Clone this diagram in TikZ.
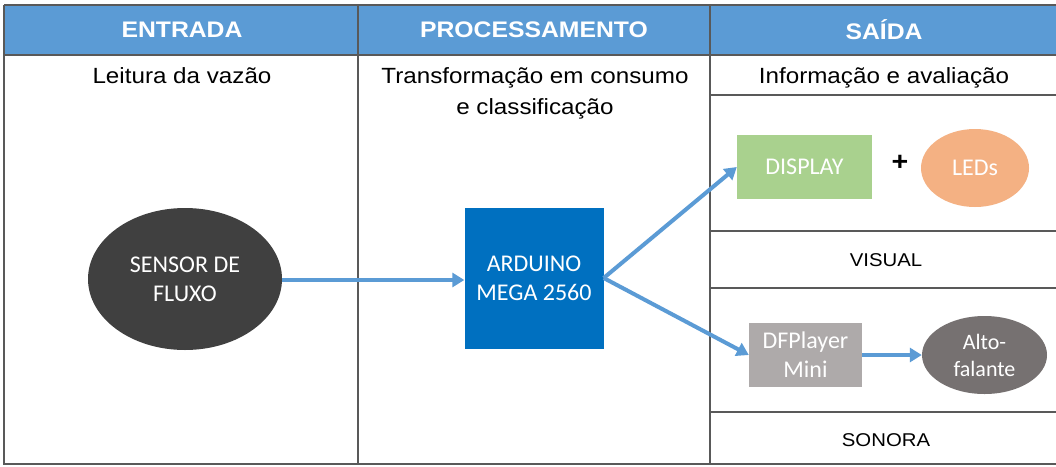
\documentclass[tikz,border=0pt]{standalone}
\usepackage{fontspec}
\setmainfont{Liberation Sans}[FakeStretch=1.1]
\newfontfamily\calib{Carlito}
\usetikzlibrary{shapes.geometric,arrows.meta}
\definecolor{hdrblue}{HTML}{5B9BD5}
\definecolor{ardblue}{HTML}{0070C0}
\definecolor{dispgreen}{HTML}{A9D18E}
\definecolor{ledorange}{HTML}{F4B183}
\definecolor{dfgray}{HTML}{AEAAAA}
\definecolor{altogray}{HTML}{767171}
\definecolor{sensgray}{HTML}{404040}
\definecolor{gridline}{HTML}{595959}
\tikzset{
  grid/.style={draw=gridline, line width=1.3pt},
  hdr/.style={text=white, font=\fontsize{22.5}{26}\selectfont\bfseries},
  sub/.style={text=black, font=\fontsize{22}{31}\selectfont, align=center},
  lbl/.style={text=black, font=\fontsize{18.5}{20}\selectfont},
  boxtext/.style={text=white, font=\calib\fontsize{24}{29}\selectfont, align=center, inner sep=0pt},
  flow/.style={draw=hdrblue, line width=4pt, -{Triangle[length=12pt,width=14pt]}},
}
\begin{document}
\begin{tikzpicture}[x=1pt,y=-1pt]
\useasboundingbox (0,0) rectangle (1056,466);
\fill[white] (0,0) rectangle (1056,466);
% header
\fill[hdrblue] (4,5) rectangle (1056,55);
\draw[grid] (4,5) -- (1056,5);
\draw[grid] (4,55) -- (1056,55);
\draw[grid] (4,5) -- (4,464) -- (1056,464);
\draw[grid] (358,5) -- (358,464);
\draw[grid] (710,5) -- (710,464);
\draw[grid] (710,95) -- (1056,95);
\draw[grid] (710,231) -- (1056,231);
\draw[grid] (710,288) -- (1056,288);
\draw[grid] (710,412) -- (1056,412);
% header texts
\node[hdr] (h1) at (182,30) {ENTRADA};
\node[hdr] (h2) at (534,30) {PROCESSAMENTO};
\node[hdr] (h3) at (884,30) {SAÍDA};
\node[sub, anchor=base] (s1) at (182,83) {Leitura da vazão};
\node[sub, anchor=base] (s2) at (535,114) {Transformação em consumo\\e classificação};
\node[sub, anchor=base] (s3) at (884,83) {Informação e avaliação};
\node[lbl] (vis) at (886,260) {VISUAL};
\node[lbl] (son) at (886,440) {SONORA};
% nodes
\node[ellipse, fill=sensgray, minimum width=194pt, minimum height=142pt, boxtext] (sensor) at (185,279) {SENSOR DE\\FLUXO};
\node[rectangle, fill=ardblue, minimum width=139pt, minimum height=141pt, boxtext] (ard) at (534,278) {ARDUINO\\MEGA 2560};
\node[rectangle, fill=dispgreen, minimum width=135pt, minimum height=64pt, boxtext] (disp) at (804.5,167) {DISPLAY};
\node[font=\fontsize{26}{26}\selectfont\bfseries] (plus) at (900,163) {+};
\node[ellipse, fill=ledorange, minimum width=108pt, minimum height=78pt, boxtext] (led) at (975,168) {LEDs};
\node[rectangle, fill=dfgray, minimum width=113pt, minimum height=64pt, boxtext] (df) at (805.5,355) {DFPlayer\\Mini};
\node[ellipse, fill=altogray, minimum width=125pt, minimum height=78pt, boxtext, font=\calib\fontsize{22}{27}\selectfont] (alto) at (984.5,355) {Alto-\\falante};
% connectors
\draw[flow] (sensor.east |- 0,280) -- (ard.west |- 0,280);
\draw[flow] (ard.east) -- (disp.west);
\draw[flow] (ard.east) -- (df.west);
\draw[flow] (df.east) -- (alto.west);
\end{tikzpicture}
\end{document}
